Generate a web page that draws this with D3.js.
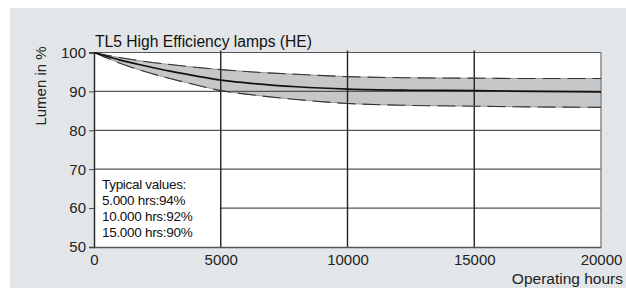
<!DOCTYPE html>
<html>
<head>
<meta charset="utf-8">
<script src="https://cdn.jsdelivr.net/npm/d3@7"></script>
<style>
  body { margin: 0; background: #fff; }
  svg { display: block; font-family: "Liberation Sans", Arial, sans-serif; }
  .tick text { font-size: 15px; fill: #222; }
</style>
</head>
<body>
<svg id="chart" width="626" height="290"></svg>
<script>
// lumen maintenance of TL5 HE lamps: spread band + typical curve
const hours  = [0, 1000, 2000, 3000, 4000, 5000, 6000, 8000, 10000, 12500, 15000, 17500, 20000];
const upper  = [100, 98.7, 97.7, 96.9, 96.2, 95.6, 95.1, 94.4, 93.8, 93.5, 93.4, 93.3, 93.3];
const mean   = [100, 98.1, 96.6, 95.2, 94.0, 92.9, 92.2, 91.2, 90.6, 90.3, 90.2, 90.0, 89.9];
const lower  = [100, 97.3, 95.1, 93.3, 91.7, 90.2, 89.3, 87.9, 86.9, 86.4, 86.2, 86.0, 85.9];
const xTicks = [0, 5000, 10000, 15000, 20000];
const yTicks = [50, 60, 70, 80, 90, 100];
const notes  = ["Typical values:", "5.000 hrs:94%", "10.000 hrs:92%", "15.000 hrs:90%"];

const svg = d3.select("#chart");
const x = d3.scaleLinear().domain([0, 20000]).range([94, 601]);
const y = d3.scaleLinear().domain([50, 100]).range([247, 52.5]);

const rows = hours.map((h, i) => ({h, up: upper[i], m: mean[i], lo: lower[i]}));

// grey panel
svg.append("rect").attr("x", 10).attr("y", 8).attr("width", 616).attr("height", 280).attr("fill", "#e3e6e8");

// plot area
svg.append("rect")
    .attr("x", x(0)).attr("y", y(100))
    .attr("width", x(20000) - x(0)).attr("height", y(50) - y(100))
    .attr("fill", "#fff");

// band
svg.append("path")
    .datum(rows)
    .attr("fill", "#c6c7c8")
    .attr("d", d3.area().x(d => x(d.h)).y0(d => y(d.lo)).y1(d => y(d.up)).curve(d3.curveMonotoneX));

// grid
svg.append("g")
    .selectAll("line")
    .data(yTicks.filter(v => v > 50))
    .join("line")
    .attr("x1", x(0)).attr("x2", x(20000))
    .attr("y1", d => y(d)).attr("y2", d => y(d))
    .attr("stroke", "#555").attr("stroke-width", 1.2);

svg.append("g")
    .selectAll("line")
    .data(xTicks.filter(v => v > 0 && v < 20000))
    .join("line")
    .attr("x1", d => x(d)).attr("x2", d => x(d))
    .attr("y1", y(100) - 2).attr("y2", y(50))
    .attr("stroke", "#222").attr("stroke-width", 1.4);

// right border
svg.append("line")
    .attr("x1", x(20000)).attr("x2", x(20000)).attr("y1", y(100)).attr("y2", y(50))
    .attr("stroke", "#8a8a8a").attr("stroke-width", 1.5);

// white box holding the typical values
svg.append("rect")
    .attr("x", x(0)).attr("y", y(69.4))
    .attr("width", x(5000) - x(0) - 1).attr("height", y(50) - y(69.4))
    .attr("fill", "#fff");

// boundary curves and mean
const line = key => d3.line().x(d => x(d.h)).y(d => y(d[key])).curve(d3.curveMonotoneX);
["up", "lo"].forEach(k => {
    svg.append("path").datum(rows).attr("fill", "none").attr("stroke", "#8c8c8c")
        .attr("stroke-width", 0.8).attr("d", line(k));
    svg.append("path").datum(rows).attr("fill", "none").attr("stroke", "#333")
        .attr("stroke-width", 1.1).attr("stroke-dasharray", "18,7").attr("d", line(k));
});
svg.append("path").datum(rows).attr("fill", "none").attr("stroke", "#111")
    .attr("stroke-width", 1.7).attr("d", line("m"));

// axes
svg.append("g")
    .attr("transform", `translate(${x(0)},0)`)
    .call(d3.axisLeft(y).tickValues(yTicks).tickSize(5).tickPadding(3))
    .call(g => g.select(".domain").attr("stroke", "#222").attr("stroke-width", 1.4))
    .call(g => g.selectAll(".tick line").attr("stroke", "#444"));

svg.append("g")
    .attr("transform", `translate(0,${y(50)})`)
    .call(d3.axisBottom(x).tickValues(xTicks).tickFormat(d3.format("d")).tickSize(0).tickPadding(7))
    .call(g => g.select(".domain").attr("stroke", "#555").attr("stroke-width", 1.6));

// labels
svg.append("text")
    .attr("x", 95).attr("y", 47)
    .attr("font-size", 16).attr("fill", "#111")
    .attr("textLength", 217).attr("lengthAdjust", "spacingAndGlyphs")
    .text("TL5 High Efficiency lamps (HE)");

svg.append("text")
    .attr("transform", `translate(46,86) rotate(-90)`)
    .attr("text-anchor", "middle")
    .attr("font-size", 15).attr("fill", "#222")
    .text("Lumen in %");

svg.append("text")
    .attr("x", 623).attr("y", 284)
    .attr("text-anchor", "end")
    .attr("font-size", 15.5).attr("fill", "#222")
    .text("Operating hours");

svg.append("g")
    .selectAll("text")
    .data(notes)
    .join("text")
    .attr("x", 102)
    .attr("y", (d, i) => 189 + i * 16)
    .attr("font-size", 13.5)
    .attr("letter-spacing", -0.3)
    .attr("fill", "#111")
    .text(d => d);
</script>
</body>
</html>
